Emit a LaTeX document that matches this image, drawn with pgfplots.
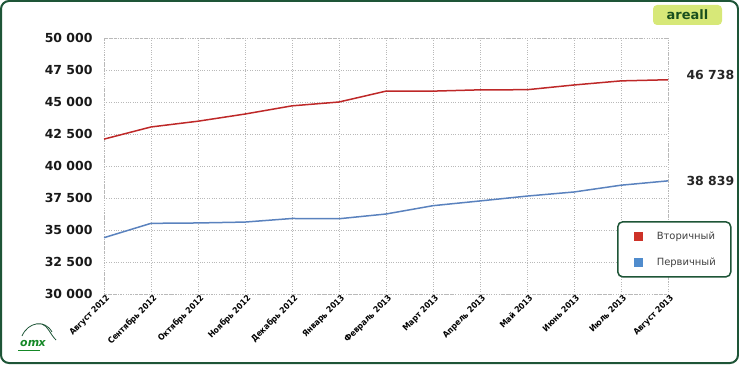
\documentclass[border=0pt]{standalone}
\usepackage{fontspec}
\setmainfont{DejaVu Sans}
\newfontfamily\condfont{DejaVu Sans Condensed}
\usepackage{pgfplots}
\pgfplotsset{compat=1.18}
\definecolor{frameg}{RGB}{30,85,55}
\definecolor{redl}{RGB}{190,40,40}
\definecolor{bluel}{RGB}{90,130,190}
\definecolor{redsq}{RGB}{205,50,40}
\definecolor{bluesq}{RGB}{80,140,205}
\definecolor{logobg}{RGB}{215,232,120}
\definecolor{logotx}{RGB}{25,80,30}
\begin{document}
\begin{tikzpicture}[x=1bp,y=1bp]
\draw[frameg, line width=2bp, rounded corners=8bp] (1,1) rectangle (738,363);
\fill[logobg, rounded corners=4bp] (653,339) rectangle (722,359);
\node[text=logotx, font=\fontsize{13}{13}\selectfont\bfseries] at (687.5,349) {areall};
\draw[frameg, line width=0.8bp] (22,28) .. controls (28,42) and (45,45) .. (52,32);
\draw[frameg, line width=0.8bp] (42,40) .. controls (48,38) and (50,30) .. (56,24);
\node[text=frameg!70!green, font=\fontsize{11}{11}\selectfont\bfseries\itshape] at (33,20) {om\kern-0.5bp x};
\draw[frameg!70!green, line width=1bp] (18,14) -- (40,14);
\begin{axis}[
  at={(104bp,70bp)}, anchor=south west,
  scale only axis, width=564bp, height=256bp,
  xmin=0, xmax=12, ymin=30000, ymax=50000,
  xtick={0,...,12},
  xticklabels={Август 2012, Сентябрь 2012, Октябрь 2012, Ноябрь 2012, Декабрь 2012, Январь 2013, Февраль 2013, Март 2013, Апрель 2013, Май 2013, Июнь 2013, Июль 2013, Август 2013},
  xticklabel style={rotate=45, anchor=north east, font=\condfont\fontsize{8.5}{8.5}\selectfont\bfseries, inner sep=1bp, xshift=2bp},
  ytick={30000,32500,...,50000},
  yticklabel style={font=\fontsize{12.5}{12.5}\selectfont\bfseries, xshift=-8bp, text=black!90},
  /pgf/number format/assume math mode=true,
  /pgf/number format/1000 sep={\ },
  scaled y ticks=false,
  grid=major,
  major grid style={gray!55, dotted, line width=0.6bp},
  axis line style={gray!55, dotted, line width=0.6bp},
  tick style={draw=none},
  legend cell align=left,
  legend style={at={(0.9096,0.285)}, anchor=north west, draw=frameg, line width=1.5bp, rounded corners=5bp,
    font=\fontsize{10}{10}\selectfont\color{black!75}, inner xsep=3bp, inner ysep=8bp, row sep=13bp,
    /tikz/every odd column/.append style={column sep=0bp},
    text depth=0pt},
  legend image code/.code={\path[draw=none,fill=none] (0bp,0bp) -- (34bp,0bp); \fill[#1, sharp corners, draw=none] (13bp,-4.5bp) rectangle (22bp,4.5bp);},
  clip=false,
]
\addplot[redl, line width=1.5bp, legend image post style={redsq}] coordinates {
(0,42100) (1,43050) (2,43500) (3,44060) (4,44700) (5,45000) (6,45850) (7,45850) (8,45950) (9,45960) (10,46330) (11,46650) (12,46738)};
\addlegendentry{Вторичный\hspace*{10bp}}
\addplot[bluel, line width=1.5bp, legend image post style={bluesq}] coordinates {
(0,34400) (1,35520) (2,35550) (3,35620) (4,35900) (5,35880) (6,36250) (7,36900) (8,37270) (9,37650) (10,37970) (11,38500) (12,38839)};
\addlegendentry{Первичный\hspace*{10bp}}
\node[anchor=west, font=\fontsize{12.5}{12.5}\selectfont\bfseries, text=black!85] at (axis cs:12,47110) [xshift=15bp] {46 738};
\node[anchor=west, font=\fontsize{12.5}{12.5}\selectfont\bfseries, text=black!85] at (axis cs:12,38830) [xshift=15bp] {38 839};
\end{axis}
\end{tikzpicture}
\end{document}
